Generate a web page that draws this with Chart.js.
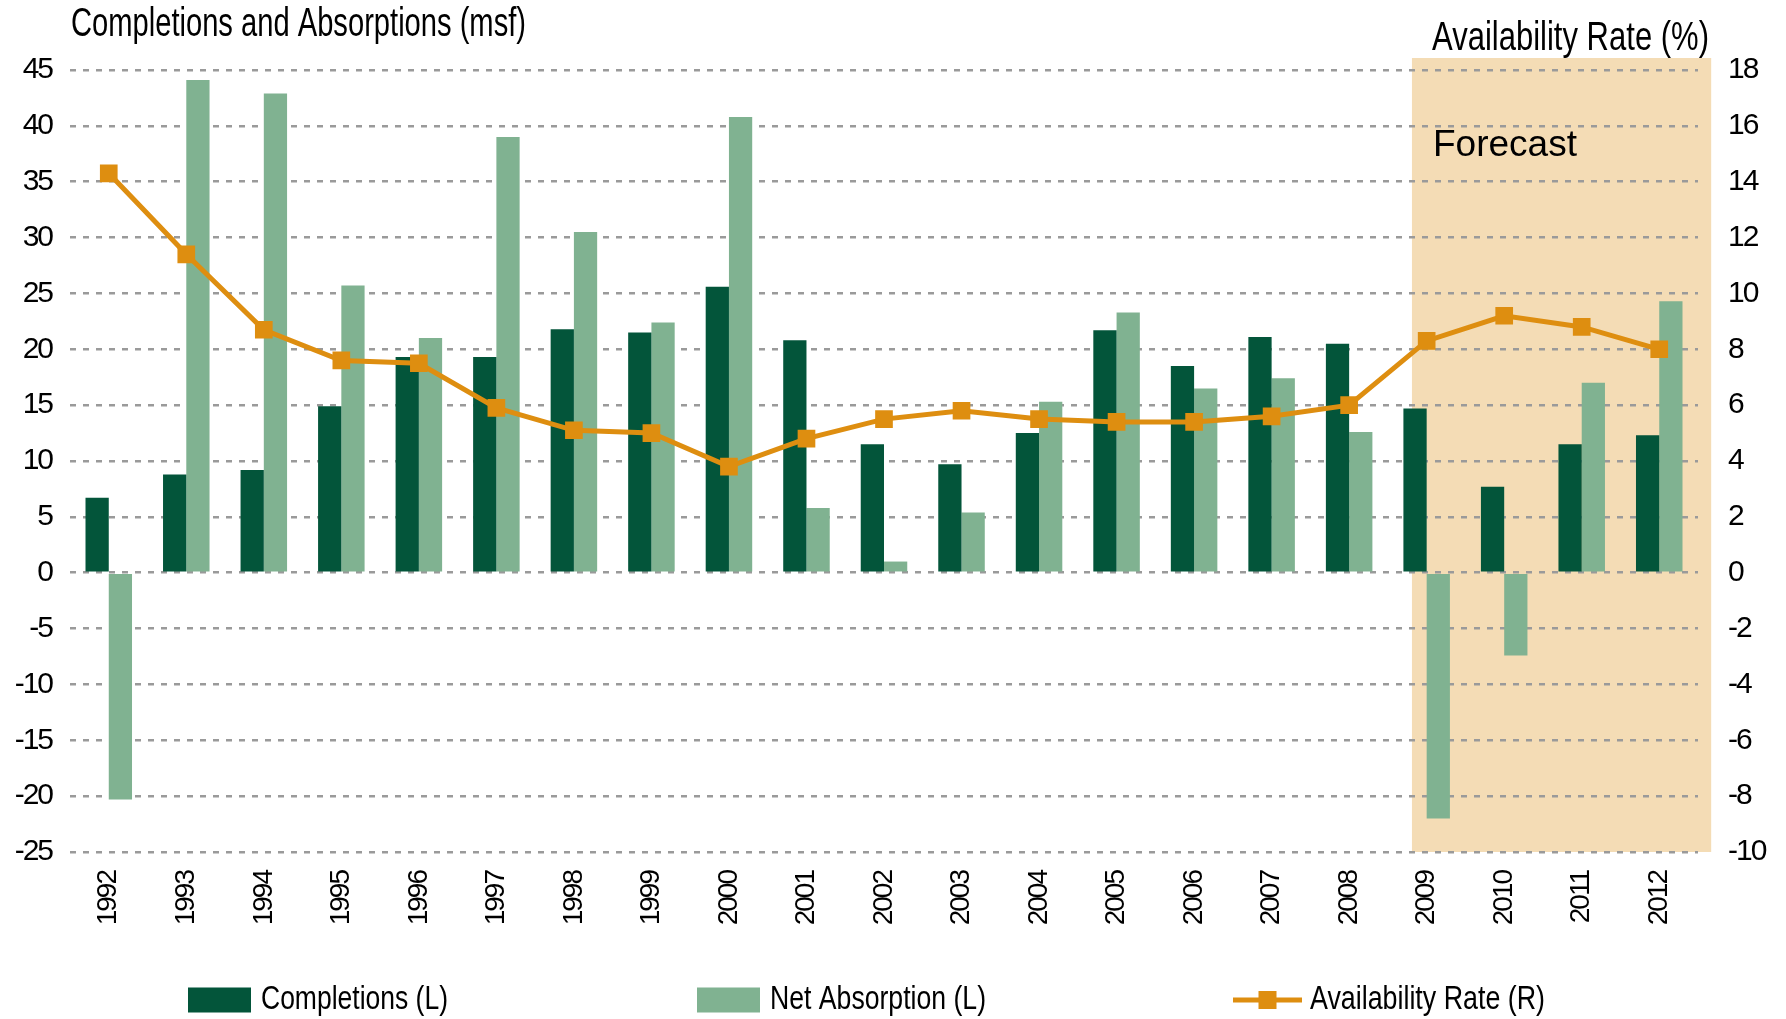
<!DOCTYPE html>
<html lang="en">
<head>
<meta charset="UTF-8">
<title>Completions, Absorptions and Availability Rate</title>
<script src="https://cdn.jsdelivr.net/npm/chart.js"></script>
<style>
  html, body { margin: 0; padding: 0; background: #fff; }
  canvas { display: block; }
</style>
</head>
<body>
<canvas id="chart" width="1786" height="1019"></canvas>
<script>
const years = ['1992', '1993', '1994', '1995', '1996', '1997', '1998', '1999', '2000', '2001', '2002',
               '2003', '2004', '2005', '2006', '2007', '2008', '2009', '2010', '2011', '2012'];
const completions = [6.7, 8.8, 9.2, 14.9, 19.3, 19.3, 21.8, 21.5, 25.6, 20.8, 11.5,
                     9.7, 12.5, 21.7, 18.5, 21.1, 20.5, 14.7, 7.7, 11.5, 12.3];
const netAbsorption = [-20.3, 44.1, 42.9, 25.7, 21.0, 39.0, 30.5, 22.4, 40.8, 5.8, 1.0,
                       5.4, 15.3, 23.3, 16.5, 17.4, 12.6, -22.0, -7.4, 17.0, 24.3];
const availabilityRate = [14.3, 11.4, 8.7, 7.6, 7.5, 5.9, 5.1, 5.0, 3.8, 4.8, 5.5,
                          5.8, 5.5, 5.4, 5.4, 5.6, 6.0, 8.3, 9.2, 8.8, 8.0];
const leftRange = [-25, 45];
const leftStep = 5;
const rightRange = [-10, 18];
const rightStep = 2;
const forecastFrom = '2009';

const FONT = '"Liberation Sans", Arial, sans-serif';
const DARK_GREEN = '#03553A';
const LIGHT_GREEN = '#80B291';
const ORANGE = '#DE8E10';
const FORECAST_BG = '#F4DCB5';

// legend placement (left edge of each key, and width of its text)
const legendX = [188, 697, 1233];
const legendTextW = [187, 216, 235];

// text drawn squeezed horizontally, like the narrow font of the original
function squeezedText(ctx, text, x, y, size, width) {
    ctx.save();
    ctx.letterSpacing = '0px';
    ctx.font = size + 'px ' + FONT;
    ctx.fillStyle = '#000';
    ctx.textBaseline = 'middle';
    ctx.textAlign = 'left';
    const natural = ctx.measureText(text).width;
    ctx.translate(x, y);
    ctx.scale(width / natural, 1);
    ctx.fillText(text, 0, 0);
    ctx.restore();
}

const decorations = {
    id: 'decorations',
    beforeLayout(chart) {
        chart.ctx.letterSpacing = '-2px';
    },
    beforeDraw(chart) {
        const { ctx, chartArea, scales: { x } } = chart;
        ctx.letterSpacing = '-2px';
        const step = x.getPixelForValue(1) - x.getPixelForValue(0);
        const left = x.getPixelForValue(years.indexOf(forecastFrom)) - step * 0.19;
        const right = chartArea.right + step * 0.17;
        const top = chartArea.top - 12;
        ctx.save();
        ctx.fillStyle = FORECAST_BG;
        ctx.fillRect(left, top, right - left, chartArea.bottom - top);
        ctx.restore();
    },
    afterDraw(chart) {
        const { ctx } = chart;
        squeezedText(ctx, 'Completions and Absorptions (msf)', 71, 25, 40, 455);
        squeezedText(ctx, 'Availability Rate (%)', 1432, 39, 40, 277);

        ctx.save();
        ctx.letterSpacing = '0px';
        ctx.font = '37px ' + FONT;
        ctx.fillStyle = '#000';
        ctx.textBaseline = 'middle';
        ctx.fillText('Forecast', 1433, 146);
        ctx.restore();

        // legend
        const y = 1000;
        chart.data.datasets.forEach((ds, i) => {
            let lx = legendX[i];
            ctx.save();
            if (ds.type === 'line') {
                ctx.strokeStyle = ds.borderColor;
                ctx.lineWidth = 5;
                ctx.beginPath();
                ctx.moveTo(lx, y);
                ctx.lineTo(lx + 69, y);
                ctx.stroke();
                ctx.fillStyle = ds.borderColor;
                ctx.fillRect(lx + 34.5 - 9, y - 9, 18, 18);
                lx += 77;
            } else {
                ctx.fillStyle = ds.backgroundColor;
                ctx.fillRect(lx, y - 12.5, 63, 25);
                lx += 73;
            }
            ctx.restore();
            squeezedText(ctx, ds.label, lx, y, 34, legendTextW[i]);
        });
    }
};

const gridStyle = {
    color: '#9A9A9A',
    lineWidth: 2.5,
    drawTicks: false
};

new Chart(document.getElementById('chart'), {
    type: 'bar',
    data: {
        labels: years,
        datasets: [
            {
                label: 'Completions (L)',
                data: completions,
                backgroundColor: DARK_GREEN,
                yAxisID: 'y',
                order: 1
            },
            {
                label: 'Net Absorption (L)',
                data: netAbsorption,
                backgroundColor: LIGHT_GREEN,
                yAxisID: 'y',
                order: 1
            },
            {
                type: 'line',
                label: 'Availability Rate (R)',
                data: availabilityRate,
                borderColor: ORANGE,
                backgroundColor: ORANGE,
                borderWidth: 5,
                pointStyle: 'rect',
                pointRadius: 12.5,
                pointHoverRadius: 12.5,
                pointBorderWidth: 0,
                tension: 0,
                yAxisID: 'y1',
                order: 0
            }
        ]
    },
    options: {
        responsive: false,
        animation: false,
        devicePixelRatio: 1,
        categoryPercentage: 0.6,
        barPercentage: 1.0,
        layout: { padding: { top: 70, bottom: 0, left: 0, right: 0 } },
        plugins: {
            legend: { display: false },
            tooltip: { enabled: false }
        },
        scales: {
            x: {
                type: 'category',
                offset: true,
                grid: { display: false, drawTicks: false },
                border: { display: false },
                ticks: {
                    color: '#000',
                    font: { family: FONT, size: 28 },
                    minRotation: 90,
                    maxRotation: 90,
                    autoSkip: false,
                    padding: 19
                },
                afterFit(scale) {
                    scale.height = 167;
                    scale.paddingLeft = 0;
                    scale.paddingRight = 0;
                }
            },
            y: {
                position: 'left',
                min: leftRange[0],
                max: leftRange[1],
                grid: gridStyle,
                border: { display: false, dash: [6, 7] },
                ticks: {
                    stepSize: leftStep,
                    color: '#000',
                    font: { family: FONT, size: 30 },
                    padding: 18
                },
                afterFit(scale) {
                    scale.width = 70;
                    scale.paddingTop = 0;
                    scale.paddingBottom = 0;
                }
            },
            y1: {
                position: 'right',
                min: rightRange[0],
                max: rightRange[1],
                grid: { drawOnChartArea: false, drawTicks: false },
                border: { display: false },
                ticks: {
                    stepSize: rightStep,
                    color: '#000',
                    font: { family: FONT, size: 30 },
                    padding: 30
                },
                afterFit(scale) {
                    scale.width = 88;
                    scale.paddingTop = 0;
                    scale.paddingBottom = 0;
                }
            }
        }
    },
    plugins: [decorations]
});
</script>
</body>
</html>
